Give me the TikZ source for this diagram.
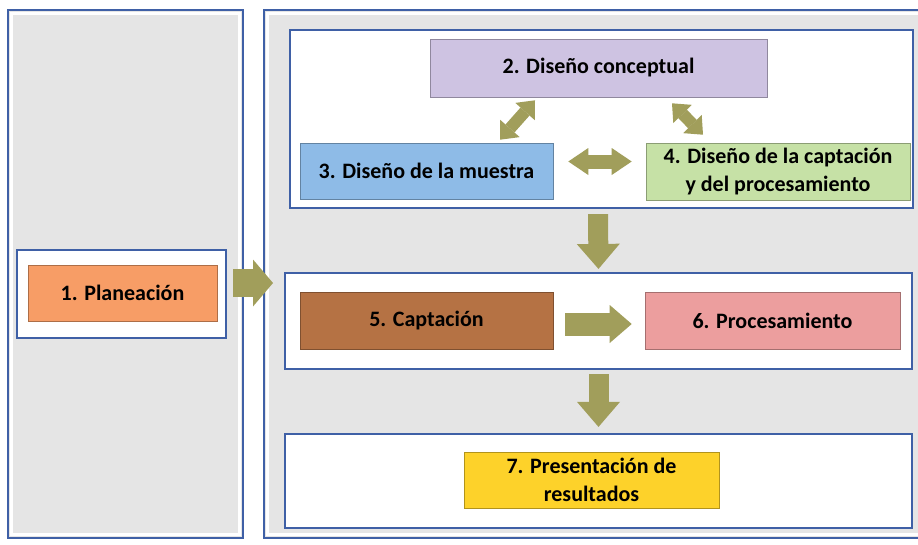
\documentclass[tikz,border=0pt]{standalone}
\usepackage{fontspec}
\setmainfont{Carlito}
\usetikzlibrary{arrows.meta}
\definecolor{azul}{HTML}{3F60A6}
\definecolor{gris}{HTML}{E5E5E5}
\definecolor{oliva}{HTML}{A19E5B}
\definecolor{naranja}{HTML}{F79D66}
\definecolor{lila}{HTML}{CEC3E2}
\definecolor{celeste}{HTML}{8EBBE7}
\definecolor{verde}{HTML}{C6E1A6}
\definecolor{marron}{HTML}{B57244}
\definecolor{rosa}{HTML}{EC9E9E}
\definecolor{amarillo}{HTML}{FDD22A}

\begin{document}
\begin{tikzpicture}[x=1pt,y=-1pt,
  panel/.style={shape=rectangle,draw=azul,line width=1.6pt,fill=gris,inner sep=0pt},
  grupo/.style={shape=rectangle,draw=azul,line width=2.2pt,fill=white,inner sep=0pt},
  etapa/.style={shape=rectangle,draw=#1!70!black,line width=0.6pt,fill=#1,inner sep=2pt,
    align=center,font=\fontsize{22}{28}\selectfont\bfseries},
  flecha/.style={draw=oliva,line width=20pt}]
\useasboundingbox (0,0) rectangle (918,544);
\clip (0,0) rectangle (918,544);
% fondos
\node[panel,minimum width=235pt,minimum height=528pt] (izq) at (125.5,274) {};
\node[panel,minimum width=666pt,minimum height=528pt] (der) at (597,274) {};
\draw[white,line width=3pt] ([shift={(4pt,-4pt)}]izq.north west) rectangle ([shift={(-4pt,4pt)}]izq.south east);
\draw[white,line width=3pt] ([shift={(4pt,-4pt)}]der.north west) rectangle ([shift={(-4pt,4pt)}]der.south east);
% grupos
\node[grupo,minimum width=209pt,minimum height=88pt] (g1) at (121.5,294) {};
\node[grupo,minimum width=623pt,minimum height=178pt] (g2) at (601.5,119) {};
\node[grupo,minimum width=627pt,minimum height=96pt] (g3) at (598.5,321) {};
\node[grupo,minimum width=627pt,minimum height=94pt] (g4) at (598.5,481) {};
% etapas
\node[etapa=naranja,minimum width=189pt,minimum height=56pt] (plan) at (122.5,293) {1. Planeación};
\node[etapa=lila,minimum width=337pt,minimum height=58pt] (conc) at (598.5,68) {2. Diseño conceptual};
\node[etapa=celeste,minimum width=253pt,minimum height=56pt] (mues) at (426.5,171) {3. Diseño de la muestra};
\node[etapa=verde,minimum width=264pt,minimum height=57pt] (proc) at (778,171.5) {4. Diseño de la captación\\y del procesamiento};
\node[etapa=marron,minimum width=253pt,minimum height=57pt] (capt) at (426.5,320.5) {5. Captación};
\node[etapa=rosa,minimum width=255pt,minimum height=57pt] (proce) at (772.5,320.5) {6. Procesamiento};
\node[etapa=amarillo,minimum width=255pt,minimum height=56pt] (pres) at (591.5,480) {7. Presentación de\\resultados};
% flechas
\coordinate (entrada) at (273,283);
\draw[flecha,line width=28pt,-{Triangle[line width=0pt,length=20pt,width=47pt]}] ([shift={(6pt,11pt)}]g1.east) -- (entrada);
\draw[flecha,line width=12pt,{Triangle[line width=0pt,length=15pt,width=26pt]}-{Triangle[line width=0pt,length=15pt,width=26pt]}] ([shift={(73.5pt,3pt)}]mues.north) -- ([shift={(-63.5pt,-3pt)}]conc.south);
\draw[flecha,line width=12pt,{Triangle[line width=0pt,length=15pt,width=26pt]}-{Triangle[line width=0pt,length=15pt,width=26pt]}] ([shift={(73.5pt,-6pt)}]conc.south) -- ([shift={(-75pt,8pt)}]proc.north);
\draw[flecha,line width=14pt,{Triangle[line width=0pt,length=20pt,width=27pt]}-{Triangle[line width=0pt,length=20pt,width=27pt]}] ([shift={(15pt,9.5pt)}]mues.east) -- ([shift={(-14pt,10pt)}]proc.west);
\draw[flecha,-{Triangle[line width=0pt,length=25pt,width=43pt]}] ([shift={(-3.5pt,-5pt)}]g2.south) -- ([shift={(0pt,3pt)}]g3.north);
\draw[flecha,line width=23pt,-{Triangle[line width=0pt,length=22pt,width=38pt]}] ([shift={(12pt,-3.5pt)}]capt.east) -- ([shift={(-13pt,-3.5pt)}]proce.west);
\draw[flecha,-{Triangle[line width=0pt,length=25pt,width=43pt]}] ([shift={(0pt,-4pt)}]g3.south) -- ([shift={(0pt,6pt)}]g4.north);
\end{tikzpicture}
\end{document}
